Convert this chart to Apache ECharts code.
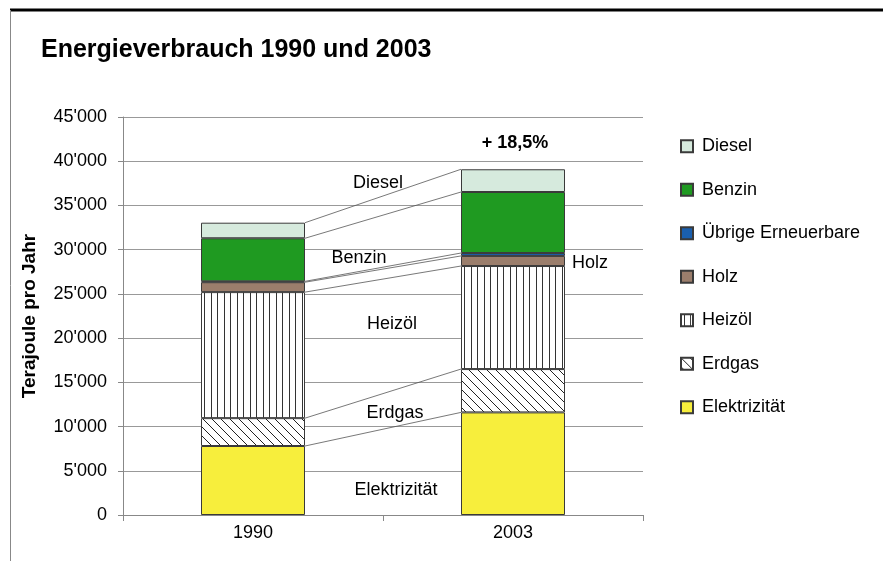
<!DOCTYPE html>
<html><head><meta charset="utf-8">
<script src="https://cdn.jsdelivr.net/npm/echarts@6/dist/echarts.min.js"></script>
<style>html,body{margin:0;padding:0;background:#fff}#c{width:883px;height:561px}</style>
</head><body><div id="c"></div>
<script>
const categories = ['1990', '2003'];
const seriesNames = ['Elektrizität', 'Erdgas', 'Heizöl', 'Holz', 'Übrige Erneuerbare', 'Benzin', 'Diesel'];
const elektrizitaet = [7800, 11600];
const erdgas = [3150, 4900];
const heizoel = [14250, 11650];
const holz = [1120, 1140];
const uebrige = [100, 330];
const benzin = [4870, 6900];
const diesel = [1760, 2570];
const yTicks = [0, 5000, 10000, 15000, 20000, 25000, 30000, 35000, 40000, 45000];
const legendOrder = ['Diesel', 'Benzin', 'Übrige Erneuerbare', 'Holz', 'Heizöl', 'Erdgas', 'Elektrizität'];

function vertPattern() {
  const c = document.createElement('canvas'); c.width = 13; c.height = 10;
  const g = c.getContext('2d'); g.fillStyle = '#fff'; g.fillRect(0, 0, 13, 10);
  g.strokeStyle = '#333'; g.lineWidth = 1;
  g.beginPath(); g.moveTo(3.5, 0); g.lineTo(3.5, 10); g.moveTo(9.5, 0); g.lineTo(9.5, 10); g.stroke();
  return c;
}
function diagPattern() {
  const c = document.createElement('canvas'); c.width = 9; c.height = 9;
  const g = c.getContext('2d'); g.fillStyle = '#fff'; g.fillRect(0, 0, 9, 9);
  g.strokeStyle = '#222'; g.lineWidth = 1;
  g.beginPath();
  for (const x of [-9, 0, 9]) { g.moveTo(x, 0); g.lineTo(x + 9, 9); }
  g.stroke();
  return c;
}

const values = [elektrizitaet, erdgas, heizoel, holz, uebrige, benzin, diesel];
const colors = ['#f7ee3c', {image: diagPattern(), repeat: 'repeat'}, {image: vertPattern(), repeat: 'repeat'},
  '#9b7e6c', '#1a5fae', '#1f9a21', '#d6eadd'];

const connectors = [];
let a = 0, b = 0;
for (let i = 0; i < values.length; i++) {
  a += values[i][0]; b += values[i][1];
  connectors.push([0, a, b]);
}

const barSeries = seriesNames.map((n, i) => ({
  name: n, type: 'bar', stack: 'total', barWidth: '40%',
  data: values[i],
  itemStyle: {color: colors[i], borderColor: '#3a3a3a', borderWidth: 1},
  emphasis: {disabled: true}
}));

const lineSeries = {
  type: 'custom', name: 'connectors', silent: true, z: 1,
  encode: {x: 0, y: [1, 2]},
  data: connectors,
  renderItem: function (params, api) {
    const p1 = api.coord([0, api.value(1)]);
    const p2 = api.coord([1, api.value(2)]);
    const half = api.size([1, 0])[0] * 0.4 / 2;
    return {type: 'line', shape: {x1: p1[0] + half, y1: p1[1], x2: p2[0] - half, y2: p2[1]},
      style: {stroke: '#555', lineWidth: 0.8}};
  }
};

const FONT = 'Liberation Sans, Arial, sans-serif';
const F = '18px Liberation Sans, Arial';
const chart = echarts.init(document.getElementById('c'), null, {renderer: 'canvas'});
chart.setOption({
  animation: false,
  backgroundColor: '#fff',
  textStyle: {fontFamily: FONT},
  title: {text: 'Energieverbrauch 1990 und 2003', left: 36, top: 33,
    textStyle: {fontFamily: FONT, fontSize: 25, fontWeight: 'bold', color: '#000'}},
  grid: {left: 123, right: 240, top: 117, bottom: 46},
  legend: {
    orient: 'vertical', left: 675, top: 132, itemWidth: 12, itemHeight: 12, itemGap: 25, icon: 'rect',
    data: legendOrder,
    textStyle: {fontFamily: FONT, fontSize: 18, color: '#000', lineHeight: 18.5, padding: [0, 0, 0, 4]},
    selectedMode: false
  },
  xAxis: {
    type: 'category', data: categories,
    axisLine: {lineStyle: {color: '#888'}},
    axisTick: {show: true, length: 6, lineStyle: {color: '#888'}},
    axisLabel: {color: '#000', fontSize: 18, margin: 9, fontFamily: FONT}
  },
  yAxis: {
    type: 'value', min: 0, max: 45000, interval: 5000,
    name: 'Terajoule pro Jahr', nameLocation: 'middle', nameGap: 84,
    nameTextStyle: {fontFamily: FONT, fontSize: 19, fontWeight: 'bold', color: '#000'},
    axisLine: {show: true, lineStyle: {color: '#888'}},
    axisTick: {show: true, length: 5, lineStyle: {color: '#888'}},
    splitLine: {lineStyle: {color: '#999', width: 1}},
    axisLabel: {color: '#000', fontSize: 18, margin: 16, fontFamily: FONT,
      formatter: v => yTicks.includes(v) ? String(v).replace(/\B(?=(\d{3})+(?!\d))/g, "'") : ''}
  },
  graphic: [
    {type: 'line', shape: {x1: 10, y1: 10, x2: 883, y2: 10}, style: {stroke: '#000', lineWidth: 3}},
    {type: 'line', shape: {x1: 10.5, y1: 10, x2: 10.5, y2: 561}, style: {stroke: '#888', lineWidth: 1}},
    {type: 'text', x: 515, y: 143, style: {text: '+ 18,5%', font: 'bold 18px Liberation Sans, Arial', fill: '#000', align: 'center', verticalAlign: 'middle'}},
    {type: 'text', x: 378, y: 183, style: {text: 'Diesel', font: F, fill: '#000', align: 'center', verticalAlign: 'middle'}},
    {type: 'text', x: 359, y: 258, style: {text: 'Benzin', font: F, fill: '#000', align: 'center', verticalAlign: 'middle'}},
    {type: 'text', x: 392, y: 324, style: {text: 'Heizöl', font: F, fill: '#000', align: 'center', verticalAlign: 'middle'}},
    {type: 'text', x: 395, y: 413, style: {text: 'Erdgas', font: F, fill: '#000', align: 'center', verticalAlign: 'middle'}},
    {type: 'text', x: 396, y: 490, style: {text: 'Elektrizität', font: F, fill: '#000', align: 'center', verticalAlign: 'middle'}},
    {type: 'text', x: 590, y: 263, style: {text: 'Holz', font: F, fill: '#000', align: 'center', verticalAlign: 'middle'}}
  ],
  series: barSeries.concat([lineSeries])
});
</script></body></html>
